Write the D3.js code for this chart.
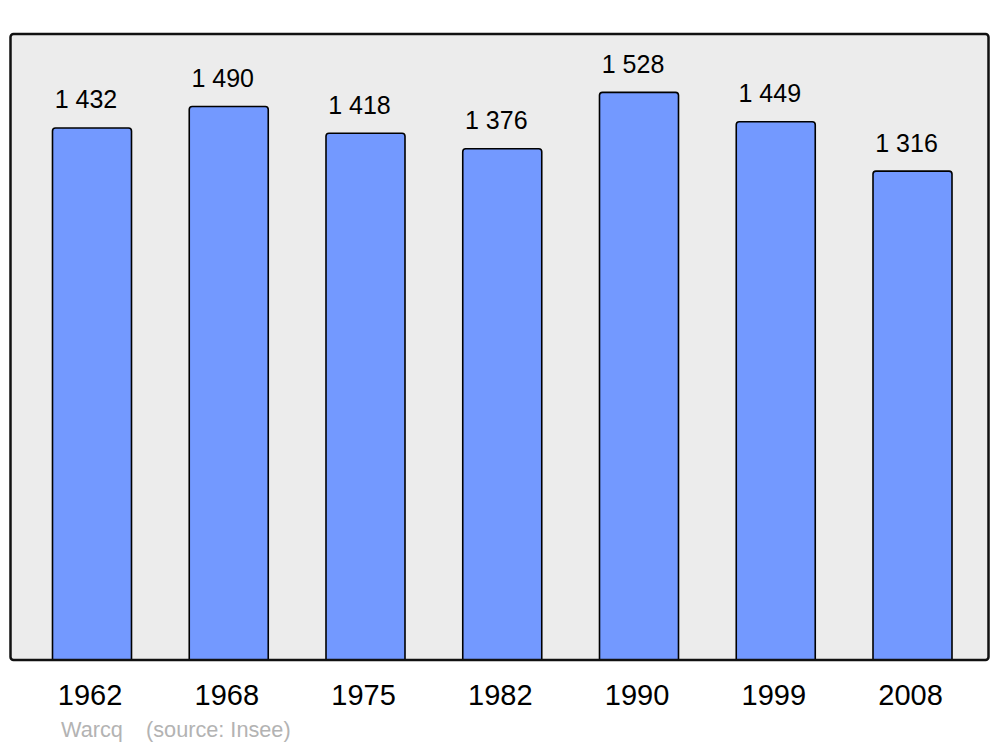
<!DOCTYPE html>
<html>
<head>
<meta charset="utf-8">
<script src="https://cdn.jsdelivr.net/npm/d3@7"></script>
<style>
  body { margin: 0; background: #fff; }
  svg { display: block; font-family: "Liberation Sans", Arial, sans-serif; }
</style>
</head>
<body>
<svg width="1000" height="747"></svg>
<script>
const years = ["1962", "1968", "1975", "1982", "1990", "1999", "2008"];
const population = [1432, 1490, 1418, 1376, 1528, 1449, 1316];
const commune = "Warcq";
const sourceLabel = "(source: Insee)";

const width = 1000;
const height = 747;
const panel = { left: 10.5, right: 988.5, top: 34, bottom: 660 };
const svg = d3.select("svg");

const xScale = d3
  .scaleBand()
  .domain(years)
  .range([16, 988.5])
  .paddingInner(0.4223)
  .paddingOuter(0.2669);

const yScale = d3
  .scaleLinear()
  .domain([0, 1685])
  .range([panel.bottom, panel.top]);

// panel background
svg
  .append("rect")
  .attr("x", panel.left)
  .attr("y", panel.top)
  .attr("width", panel.right - panel.left)
  .attr("height", panel.bottom - panel.top)
  .attr("rx", 3)
  .attr("fill", "#ececec");

// bars: rounded top corners only
const barPath = (x, y, w, h, r) =>
  `M${x},${y + h} V${y + r} Q${x},${y} ${x + r},${y} H${x + w - r} Q${x + w},${y} ${x + w},${y + r} V${y + h}`;

const data = years.map((y, i) => ({ year: y, value: population[i] }));

svg
  .selectAll("path.bar")
  .data(data)
  .enter()
  .append("path")
  .attr("class", "bar")
  .attr("d", d =>
    barPath(
      xScale(d.year),
      yScale(d.value),
      xScale.bandwidth(),
      yScale(0) - yScale(d.value),
      3
    )
  )
  .attr("fill", "#7399ff")
  .attr("stroke", "#000")
  .attr("stroke-width", 1.6);

// value labels
svg
  .selectAll("text.value")
  .data(data)
  .enter()
  .append("text")
  .attr("class", "value")
  .attr("x", d => xScale(d.year) + xScale.bandwidth() / 2 - 6)
  .attr("y", d => yScale(d.value) - 19.5)
  .attr("text-anchor", "middle")
  .attr("font-size", 25)
  .attr("fill", "#000")
  .text(d => d3.format(",")(d.value).replace(",", " "));

// panel border on top
svg
  .append("rect")
  .attr("x", panel.left)
  .attr("y", panel.top)
  .attr("width", panel.right - panel.left)
  .attr("height", panel.bottom - panel.top)
  .attr("rx", 3)
  .attr("fill", "none")
  .attr("stroke", "#111")
  .attr("stroke-width", 2.5);

// x axis labels
const xAxis = d3.axisBottom(xScale).tickSize(0).tickPadding(0);
const gx = svg
  .append("g")
  .attr("transform", "translate(-2," + 705 + ")")
  .call(xAxis);
gx.select(".domain").remove();
gx.selectAll("text")
  .attr("dy", 0)
  .attr("font-size", 29)
  .attr("font-family", "Liberation Sans, Arial, sans-serif")
  .attr("fill", "#000");

// caption
svg
  .append("text")
  .attr("x", 61)
  .attr("y", 737)
  .attr("font-size", 21.7)
  .attr("fill", "#b3b3b3")
  .text(commune);

svg
  .append("text")
  .attr("x", 146)
  .attr("y", 737)
  .attr("font-size", 21.7)
  .attr("fill", "#b3b3b3")
  .text(sourceLabel);
</script>
</body>
</html>
